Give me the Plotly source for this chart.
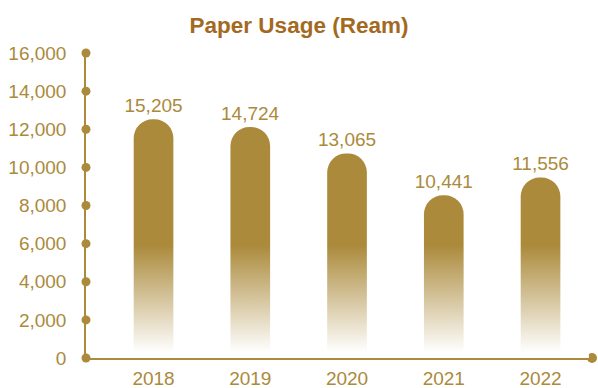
import plotly.graph_objects as go

# Paper usage per year (reams)
years = ["2018", "2019", "2020", "2021", "2022"]
usage = [15205, 14724, 13065, 10441, 11556]

# Visible axis ticks
y_ticks = [0, 2000, 4000, 6000, 8000, 10000, 12000, 14000, 16000]

GOLD = "#AB8A3B"
TITLE = "#A36A1F"
FONT = "Liberation Sans, Arial, Helvetica, sans-serif"

x_pos = list(range(len(years)))
X_MIN, X_MAX = -0.698, 4.532
BAR_RANGE = [240, 19360]
FADE_LOW, FADE_HIGH = 600, 7300  # white fade over the lower part of the bars

fig = go.Figure()

# Bars (drawn on a hidden secondary scale)
fig.add_trace(go.Bar(
    x=x_pos, y=usage, yaxis="y2",
    width=0.41,
    marker=dict(color=GOLD, cornerradius="50%", line=dict(width=0)),
    text=[f"{v:,}" for v in usage],
    textposition="outside",
    constraintext="none",
    textfont=dict(size=19, color=GOLD, family=FONT),
    hoverinfo="skip",
))

# White gradient that fades the bar bottoms out
fig.add_trace(go.Scatter(
    x=[-0.5, 4.5, 4.5, -0.5, -0.5],
    y=[BAR_RANGE[0], BAR_RANGE[0], FADE_HIGH, FADE_HIGH, BAR_RANGE[0]],
    yaxis="y2",
    mode="none", fill="toself",
    fillgradient=dict(
        type="vertical",
        start=FADE_LOW, stop=FADE_HIGH,
        colorscale=[[0, "rgba(255,255,255,1)"], [1, "rgba(255,255,255,0)"]],
    ),
    hoverinfo="skip", showlegend=False,
))

# Dots along the y axis at each tick
fig.add_trace(go.Scatter(
    x=[X_MIN] * len(y_ticks), y=y_ticks,
    mode="markers", marker=dict(size=9, color=GOLD),
    cliponaxis=False, hoverinfo="skip", showlegend=False,
))

# Dot at the end of the x axis
fig.add_trace(go.Scatter(
    x=[X_MAX], y=[0],
    mode="markers", marker=dict(size=10, color=GOLD),
    cliponaxis=False, hoverinfo="skip", showlegend=False,
))

fig.update_layout(
    width=598, height=388,
    margin=dict(l=86, r=6, t=53, b=30),
    paper_bgcolor="white", plot_bgcolor="white",
    showlegend=False,
    title=dict(
        text="<b>Paper Usage (Ream)</b>",
        x=0.5, xanchor="center", y=0.936, yanchor="middle",
        font=dict(size=22.5, color=TITLE, family=FONT),
    ),
    xaxis=dict(
        range=[X_MIN, X_MAX],
        tickvals=x_pos, ticktext=years,
        showgrid=False, zeroline=False, automargin=False,
        showline=True, linecolor=GOLD, linewidth=1.5,
        ticks="", ticklabelstandoff=2,
        tickfont=dict(size=19, color=GOLD, family=FONT),
    ),
    yaxis=dict(
        range=[0, 16000],
        tickvals=y_ticks, tickformat=",d",
        showgrid=False, zeroline=False, automargin=False,
        showline=True, linecolor=GOLD, linewidth=1.5,
        ticks="", ticklabelstandoff=14,
        tickfont=dict(size=19, color=GOLD, family=FONT),
    ),
    yaxis2=dict(
        range=BAR_RANGE,
        overlaying="y", side="right",
        visible=False, showgrid=False, zeroline=False,
    ),
)

fig.write_html("out.html")
